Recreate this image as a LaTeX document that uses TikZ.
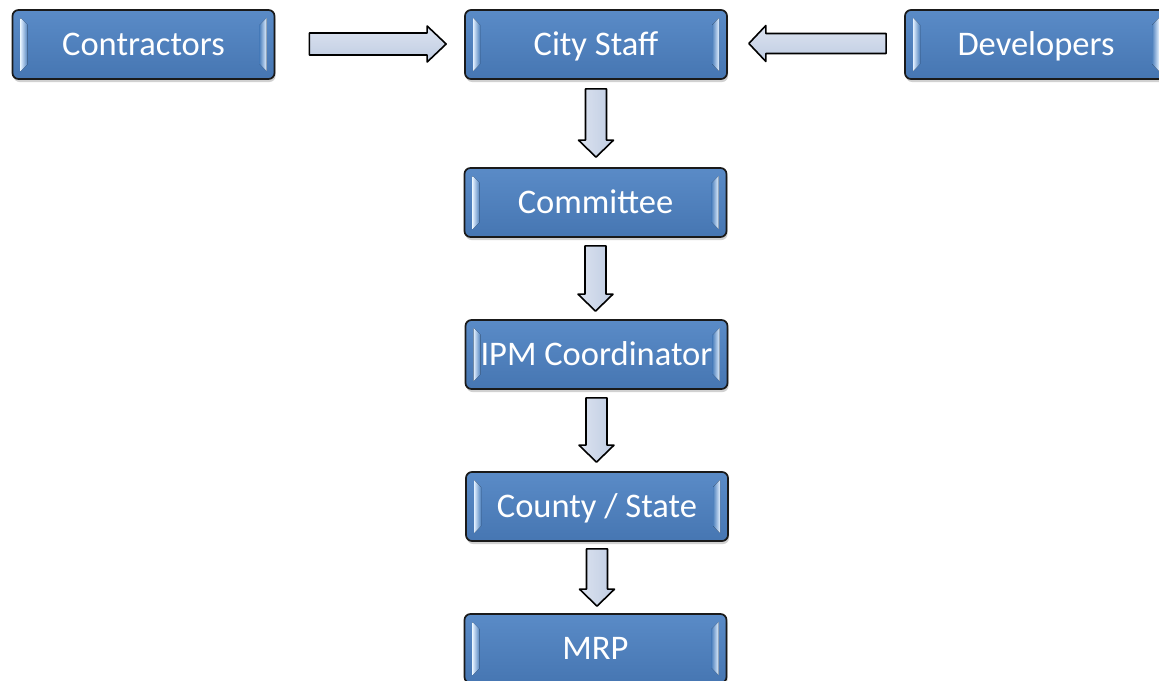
\documentclass[tikz,border=0pt]{standalone}
\usepackage{fontspec}
\setmainfont{Carlito}
\usetikzlibrary{calc,shadows}

\definecolor{boxblue}{HTML}{4F81BD}
\definecolor{boxtop}{HTML}{5A8BC7}
\definecolor{boxbot}{HTML}{4676B2}
\definecolor{bevel}{HTML}{E2F0FF}
\definecolor{arrowfill}{HTML}{BFCCE2}
\definecolor{arrowlight}{HTML}{DCE3F0}
\definecolor{edge}{HTML}{1A1A1A}

\tikzset{
  stage/.style={
    draw=edge, line width=1.7pt, rounded corners=6pt,
    top color=boxtop, bottom color=boxbot,
    minimum width=262pt, minimum height=69pt, inner sep=0pt,
    text=white, font=\fontsize{34.5}{40}\selectfont,
    text height=22pt, text depth=0pt,
    drop shadow={shadow xshift=1pt, shadow yshift=-3pt, opacity=0.3, fill=black!60},
    path picture={
      \coordinate (nw) at (path picture bounding box.north west);
      \coordinate (se) at (path picture bounding box.south east);
      % bevel highlights along the inner left and right edges
      \fill[sharp corners, left color=bevel, right color=boxblue]
        ($(nw)+(8pt,-8pt)$) -- ($(nw)+(15pt,-15pt)$) --
        ($(nw|-se)+(15pt,15pt)$) -- ($(nw|-se)+(8pt,8pt)$) -- cycle;
      \fill[sharp corners, left color=boxblue, right color=bevel]
        ($(se|-nw)+(-8pt,-8pt)$) -- ($(se|-nw)+(-15pt,-15pt)$) --
        ($(se)+(-15pt,15pt)$) -- ($(se)+(-8pt,8pt)$) -- cycle;
    }
  },
  blockarrow/.style={draw=black, line width=1.6pt, line join=round}
}

% block arrows drawn between two anchor points
\newcommand\downblock[2]{%
  \path[blockarrow, left color=arrowlight, right color=arrowfill]
    let \p1=(#1), \p2=(#2) in
    (\x1-10.5pt,\y1) -- (\x1+10.5pt,\y1) -- (\x1+10.5pt,\y2+17pt) --
    (\x1+17.5pt,\y2+17pt) -- (\x1,\y2) -- (\x1-17.5pt,\y2+17pt) --
    (\x1-10.5pt,\y2+17pt) -- cycle;}
\newcommand\rightblock[2]{%
  \path[blockarrow, top color=arrowlight, bottom color=arrowfill]
    let \p1=(#1), \p2=(#2) in
    (\x1,\y1+11pt) -- (\x2-19pt,\y1+11pt) -- (\x2-19pt,\y1+18pt) --
    (\x2,\y1) -- (\x2-19pt,\y1-18pt) -- (\x2-19pt,\y1-11pt) --
    (\x1,\y1-11pt) -- cycle;}
\newcommand\leftblock[2]{%
  \path[blockarrow, top color=arrowlight, bottom color=arrowfill]
    let \p1=(#1), \p2=(#2) in
    (\x1,\y1+10pt) -- (\x2+17pt,\y1+10pt) -- (\x2+17pt,\y1+18pt) --
    (\x2,\y1) -- (\x2+17pt,\y1-18pt) -- (\x2+17pt,\y1-10pt) --
    (\x1,\y1-10pt) -- cycle;}

\begin{document}
\begin{tikzpicture}[x=1pt, y=-1pt]
  \useasboundingbox (0,0) rectangle (1159,680);
  \clip (0,0) rectangle (1159,680);

  % stages
  \node[stage] (con) at (143.5,44.5) {Contractors};
  \node[stage] (cs)  at (596,44.5)   {City Staff};
  \node[stage] (dev) at (1036,44.5)  {Developers};
  \node[stage] (cm)  at (595.5,202.5) {Committee};
  \node[stage] (ipm) at (596.5,354.5) {IPM Coordinator};
  \node[stage] (cty) at (597,506.5)  {County / State};
  \node[stage] (mrp) at (595.5,648.5) {MRP};

  % arrow anchor points
  \coordinate (a1s) at ($(con.east)+(34,-0.5)$);
  \coordinate (a1e) at ($(cs.west)+(-18,-0.5)$);
  \coordinate (a2s) at ($(dev.west)+(-18,-1)$);
  \coordinate (a2e) at ($(cs.east)+(21,-1)$);
  \coordinate (d1s) at ($(cs.south)+(0,9)$);
  \coordinate (d1e) at ($(cm.north)+(0,-10)$);
  \coordinate (d2s) at ($(cm.south)+(0,8)$);
  \coordinate (d2e) at ($(ipm.north)+(0,-8)$);
  \coordinate (d3s) at ($(ipm.south)+(0,8)$);
  \coordinate (d3e) at ($(cty.north)+(0,-9)$);
  \coordinate (d4s) at ($(cty.south)+(0,7)$);
  \coordinate (d4e) at ($(mrp.north)+(0,-7)$);

  % connectors
  \rightblock{a1s}{a1e}
  \leftblock{a2s}{a2e}
  \downblock{d1s}{d1e}
  \downblock{d2s}{d2e}
  \downblock{d3s}{d3e}
  \downblock{d4s}{d4e}
\end{tikzpicture}
\end{document}
